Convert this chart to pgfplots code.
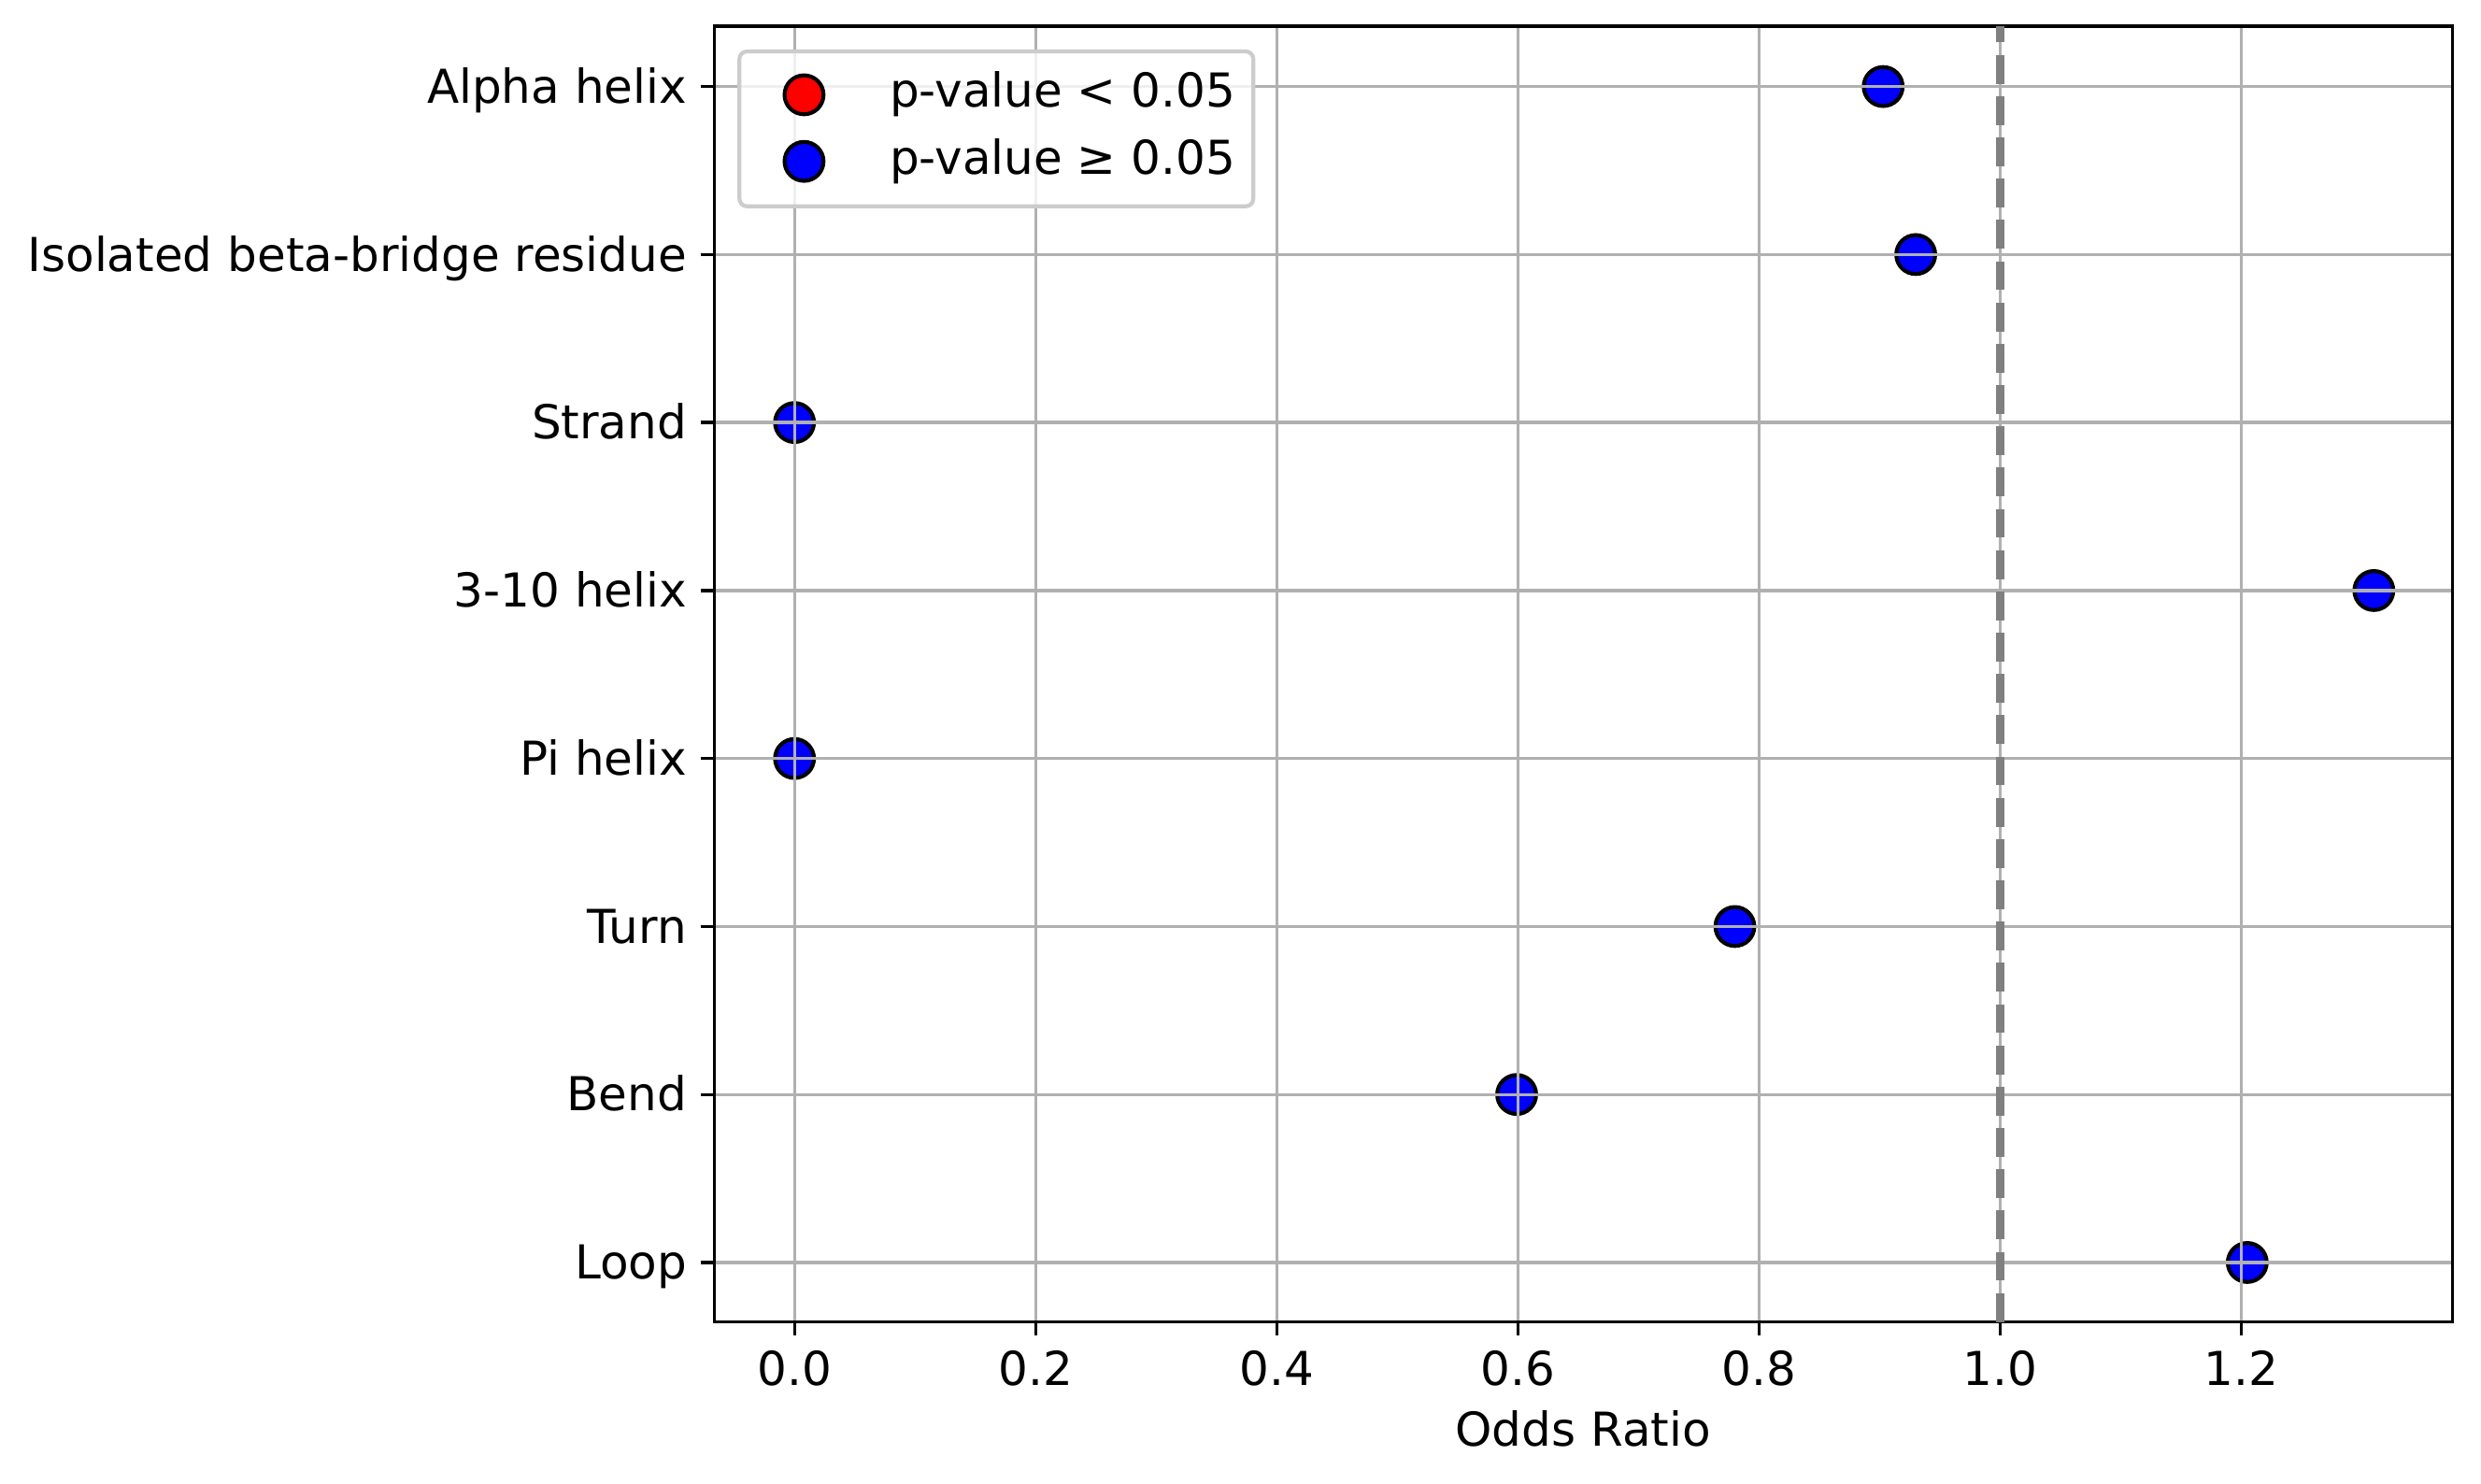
\documentclass[border=0pt]{standalone}
\usepackage{fontspec}
\setmainfont{DejaVu Sans}
\usepackage{pgfplots}
\pgfplotsset{compat=1.18}
\definecolor{gridgray}{HTML}{B0B0B0}
\definecolor{dashgray}{HTML}{808080}
\definecolor{legedge}{HTML}{CCCCCC}
\newcommand{\lblfont}{\fontsize{12}{14.4}\selectfont}
\begin{document}
\begin{tikzpicture}
\begin{axis}[
  set layers=axis on top,
  scale only axis, width=446.4pt, height=332.8pt,
  xmin=-0.0667, xmax=1.375, ymin=-0.354, ymax=7.36,
  grid=major, grid style={gridgray, line width=0.8pt},
  axis line style={line width=0.8pt},
  tick align=outside, major tick length=3.5pt,
  tick style={black, line width=0.8pt},
  tick pos=left,
  xtick={0,0.2,0.4,0.6,0.8,1.0,1.2},
  /pgf/number format/fixed, /pgf/number format/fixed zerofill,
  /pgf/number format/precision=1, /pgf/number format/assume math mode=true,
  ytick={0,1,2,3,4,5,6,7},
  yticklabels={Loop,Bend,Turn,Pi helix,3-10 helix,Strand,Isolated beta-bridge residue,Alpha helix},
  tick label style={font=\lblfont},
  yticklabel style={anchor=east, inner sep=0pt, text height=8.8pt, text depth=2.7pt, xshift=-3.3pt, yshift=-1.2pt},
  xticklabel style={anchor=north, inner sep=0pt, yshift=-3.8pt},
  xlabel={Odds Ratio},
  xlabel style={font=\lblfont, at={(axis description cs:0.5,0)}, anchor=north, inner sep=0pt, yshift=-22.6pt},
  legend style={at={(0,1)}, anchor=north west, xshift=6pt, yshift=-6pt,
    draw=legedge, line width=1pt, rounded corners=2pt,
    fill=white, fill opacity=0.8, text opacity=1, draw opacity=1,
    inner xsep=4.6pt, inner ysep=5.6pt, row sep=5.6pt, column sep=10pt,
    nodes={inner sep=0pt, text height=8.8pt, text depth=2.7pt, anchor=west},
    font=\lblfont},
  legend cell align=left,
  legend image code/.code={\path[draw=none, fill=none] (0pt,0pt) -- (24pt,0pt);
    \draw[#1, sharp corners, fill opacity=1, draw opacity=1] plot coordinates {(12pt,0.2pt)};},
]
\addlegendimage{only marks, mark=*, mark size=5pt, mark options={fill=red, draw=black, line width=1pt}}
\addlegendentry{p-value < 0.05}
\addplot[only marks, mark=*, mark size=5pt, mark options={fill=blue, draw=black, line width=1pt}]
  coordinates {
    (1.205,0) (0.599,1) (0.780,2) (0,3) (1.310,4) (0,5) (0.930,6) (0.903,7)
  };
\addlegendentry{p-value ≥ 0.05}
\addplot[forget plot, on layer=axis foreground, dashgray, line width=2pt, dash pattern=on 7.4pt off 3.2pt]
  coordinates {(1,-0.354) (1,7.36)};
\end{axis}
\pgfresetboundingbox
\path ([xshift=-183.4pt,yshift=-41.4pt]current axis.south west) rectangle ([xshift=7.4pt,yshift=6.7pt]current axis.north east);
\end{tikzpicture}
\end{document}
